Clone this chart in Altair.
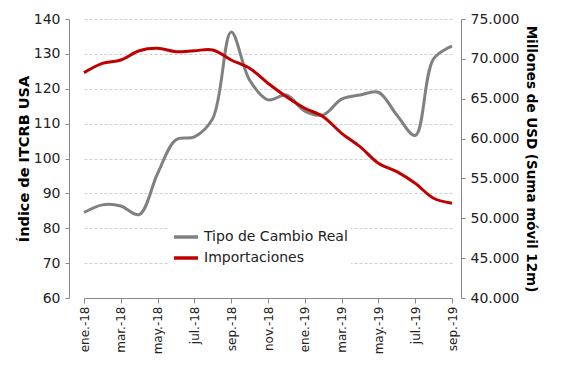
import altair as alt
import pandas as pd

months = ["ene.-18", "feb.-18", "mar.-18", "abr.-18", "may.-18", "jun.-18", "jul.-18",
          "ago.-18", "sep.-18", "oct.-18", "nov.-18", "dic.-18", "ene.-19", "feb.-19",
          "mar.-19", "abr.-19", "may.-19", "jun.-19", "jul.-19", "ago.-19", "sep.-19"]
tcr = [84.5, 86.7, 86.4, 83.9, 95.7, 105.4, 106.2, 111.5, 136.3, 122.5, 116.8, 118.2,
       113.6, 112.5, 117.0, 118.2, 119.0, 112.5, 106.6, 128.6, 132.2]
imp = [68270, 69440, 69860, 71020, 71320, 70900, 71020, 71110, 69860, 68820, 66940,
       65250, 63800, 62750, 60660, 58990, 56900, 55850, 54390, 52510, 51880]
shown_months = months[::2]
series = ["Tipo de Cambio Real", "Importaciones"]
colors = ["#808080", "#C00000"]

df = pd.DataFrame({"mes": months, "tcr": tcr, "imp": imp})

FONT = "DejaVu Sans"
TFONT = "DejaVu Sans"

x = alt.X("mes:O", sort=months, title=None,
          scale=alt.Scale(type="point", range=[15, 383], padding=0),
          axis=alt.Axis(values=shown_months, labelAngle=-90, labelFontSize=12,
                        labelColor="#222", domainColor="#888", tickColor="#888",
                        tickSize=5, labelPadding=3, labelFont=FONT, grid=False))

color = alt.Color("serie:N", scale=alt.Scale(domain=series, range=colors),
                  legend=alt.Legend(title=None, orient="none", legendX=100, legendY=201,
                                    symbolType="stroke", symbolSize=576,
                                    symbolStrokeWidth=3.5, labelFontSize=14,
                                    labelFont=FONT, labelColor="#222",
                                    rowPadding=-1, fillColor="white", padding=3,
                                    labelOffset=4))

gray = alt.Chart(df).transform_calculate(serie="'Tipo de Cambio Real'").mark_line(
    strokeWidth=3, interpolate="catmull-rom").encode(
    x=x,
    y=alt.Y("tcr:Q", title="Índice de ITCRB USA",
            scale=alt.Scale(domain=[60, 140], nice=False, zero=False),
            axis=alt.Axis(values=list(range(60, 141, 10)), labelFontSize=14,
                          labelFont=FONT, labelColor="#222", domainColor="#888",
                          tickColor="#888", tickSize=4, labelPadding=5,
                          gridColor="#cfcfcf", gridDash=[3, 2], grid=True,
                          titleFont=TFONT, titleFontSize=14.5, titleFontWeight="bold",
                          titleColor="#000", titlePadding=2)),
    color=color)

red = alt.Chart(df).transform_calculate(serie="'Importaciones'").mark_line(
    strokeWidth=3, interpolate="catmull-rom").encode(
    x=x,
    y=alt.Y("imp:Q", title="Millones de USD (Suma móvil 12m)",
            scale=alt.Scale(domain=[40000, 75000], nice=False, zero=False),
            axis=alt.Axis(orient="right", values=list(range(40000, 75001, 5000)),
                          labelExpr="replace(format(datum.value, ',.0f'), ',', '.')",
                          labelFontSize=14, labelFont=FONT, labelColor="#222",
                          domainColor="#888", tickColor="#888", tickSize=4,
                          labelPadding=5, grid=False,
                          titleFont=TFONT, titleFontSize=13.5, titleFontWeight="bold",
                          titleColor="#000", titlePadding=5)),
    color=color)

chart = alt.layer(gray, red).resolve_scale(y="independent").properties(
    width=392, height=279,
    autosize=alt.AutoSizeParams(type="none"),
    padding={"left": 61, "top": 11, "right": 98, "bottom": 61},
    background="white"
).configure_view(stroke=None)

chart.save("out.html", embed_options={"renderer": "svg", "actions": False})
